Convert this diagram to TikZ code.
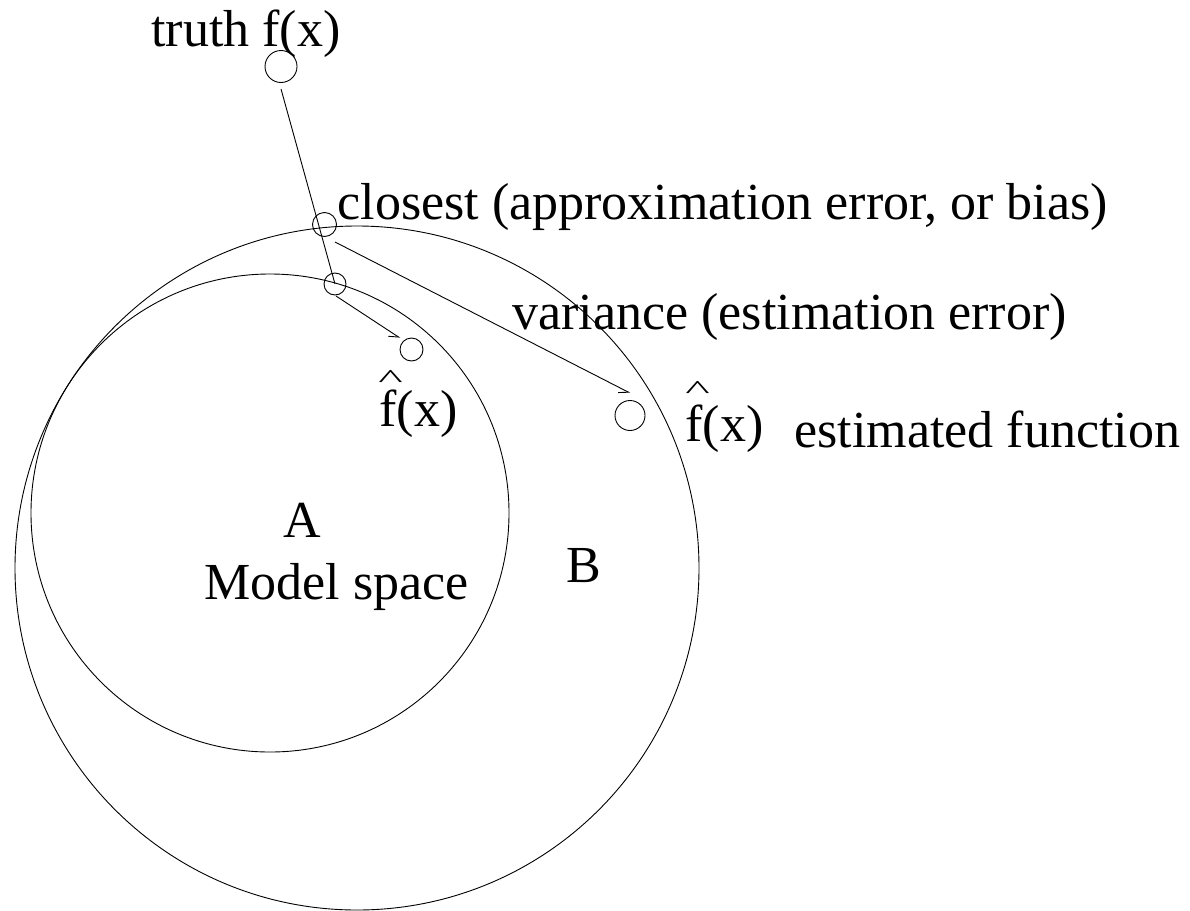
\documentclass[tikz,border=0pt]{standalone}
\usepackage{fontspec}
\setmainfont{Liberation Serif}
\usetikzlibrary{arrows.meta}
\begin{document}
\begin{tikzpicture}[x=1pt,y=-1pt, line width=0.9pt,
  lbl/.style={anchor=base west, inner sep=0pt, font=\fontsize{52}{60}\selectfont},
  hatlbl/.style={anchor=base west, inner sep=0pt, font=\fontsize{52}{60}\selectfont},
  dot/.style={draw, circle, inner sep=0pt, line width=0.9pt},
  harp/.style={-{Straight Barb[right,length=9pt,width=10pt]}}]
\useasboundingbox (0,0) rectangle (1190,910);
% spaces
\node[dot, minimum size=684pt] (spaceB) at (357,568) {};
\node[dot, minimum size=478pt] (spaceA) at (270,513) {};
% points
\node[dot, minimum size=32pt] (truth) at (281,66.5) {};
\node[dot, minimum size=24pt] (closest) at (324.5,224.5) {};
\node[dot, minimum size=22pt] (closeA) at (335,284) {};
\node[dot, minimum size=23pt] (fhatA) at (411.5,349.5) {};
\node[dot, minimum size=30pt] (fhatB) at (630,415.5) {};
% connectors
\draw ([yshift=-6pt]truth.south) -- (closeA.center);
\coordinate (a1s) at (336,296);
\coordinate (a1e) at (400,338);
\draw[harp] (a1s) -- (a1e);
\coordinate (a2s) at (335,242);
\coordinate (a2e) at (630,393);
\draw[harp] (a2s) -- (a2e);
% labels
\node[lbl] (ttruth) at (151,46) {truth f(x)};
\node[lbl] (tclosest) at (337,219) {closest (approximation error, or bias)};
\node[lbl] (tvar) at (512,329) {variance (estimation error)};
\node[lbl] (tfA) at (379,426) {f(x)};
\node[hatlbl] (hA) at (378,387) {\scalebox{1}[0.5]{\textasciicircum}};
\node[lbl] (tfB) at (685,441) {f(x)};
\node[hatlbl] (hB) at (685,398) {\scalebox{1}[0.5]{\textasciicircum}};
\node[lbl] (test) at (794,447) {estimated function};
\node[lbl] (tA) at (283,537) {A};
\node[lbl] (tmodel) at (204,599) {Model space};
\node[lbl] (tB) at (566,582) {B};
\end{tikzpicture}
\end{document}
